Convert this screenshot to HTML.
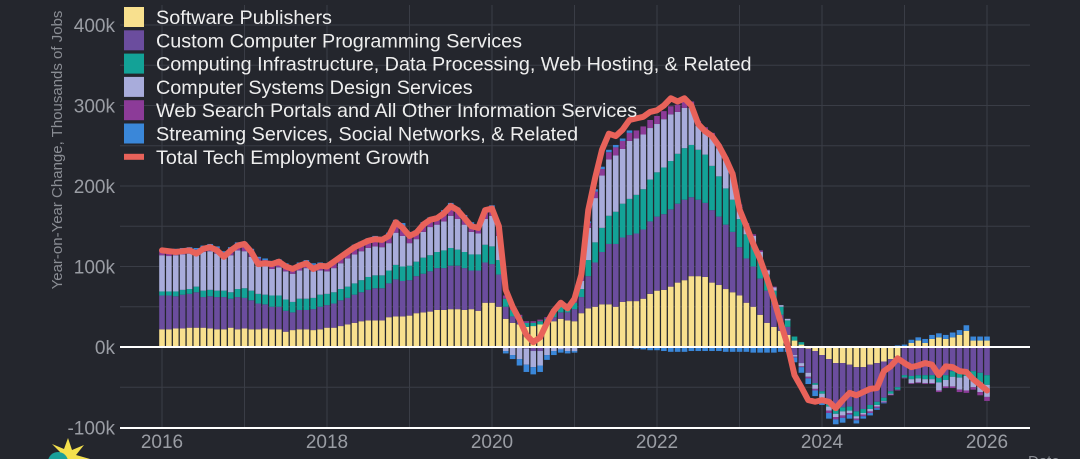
<!DOCTYPE html>
<html><head><meta charset="utf-8"><style>
html,body{margin:0;padding:0;background:#24262d;}
svg{display:block;font-family:"Liberation Sans",sans-serif;}
</style></head><body>
<svg id="chart" width="1080" height="459" viewBox="0 0 1080 459" xmlns="http://www.w3.org/2000/svg">
<rect width="1080" height="459" fill="#24262d"/>
<g id="grid"></g>
<g id="bars"></g>
<g id="axes"></g>
<g id="line"></g>
<text transform="translate(62,150) rotate(-90)" text-anchor="middle" font-size="15" fill="#8a8d94">Year-on-Year Change, Thousands of Jobs</text>
<text x="1028" y="466" font-size="15" fill="#8a8d94">Date</text>
<g><polygon points="68,438 72,450 84,445 76,455 90,459 50,459 60,452 52,444 64,449" fill="#f4e04d"/><circle cx="58" cy="462" r="10" fill="#1aa09a"/></g>
<g id="legend"></g>
</svg>
<script>
const years=[2016,2018,2020,2022,2024,2026];
const yTicks=[-100,0,100,200,300,400];
const seriesNames=["Software Publishers","Custom Computer Programming Services","Computing Infrastructure, Data Processing, Web Hosting, & Related","Computer Systems Design Services","Web Search Portals and All Other Information Services","Streaming Services, Social Networks, & Related"];
const software=[22,22,23,23,24,24,24,23,22,22,24,22, 23,22,22,23,22,22,19,21,22,22,21,22, 24,24,26,28,30,32,33,33,33,37,38,38, 39,42,43,44,46,46,47,47,46,47,45,55, 55,50,35,30,28,25,26,28,30,32,35,33, 32,42,48,50,53,53,50,56,57,57,60,66, 70,71,75,80,83,88,88,87,80,77,72,68, 64,55,50,40,30,25,20,15,8,3,-2,-5, -10,-15,-20,-20,-22,-25,-25,-22,-20,-18,-15,-12, 0,5,8,5,10,12,10,12,15,20,8,8, 8];
const custom=[42,42,40,42,42,44,38,40,40,40,36,40, 38,36,32,30,28,28,26,22,24,24,26,28, 28,30,32,33,35,36,38,40,40,42,46,44, 44,46,48,50,52,52,54,54,52,48,50,50, 48,40,15,8,4,-2,-5,-5,0,5,8,10, 15,20,40,55,65,75,78,80,82,84,86,90, 92,94,96,98,100,98,95,92,90,85,80,75, 60,55,50,45,40,30,20,10,-10,-20,-30,-40, -45,-55,-58,-55,-52,-55,-52,-50,-48,-45,-40,-38, -35,-36,-35,-35,-35,-38,-35,-30,-30,-28,-30,-32, -35];
const infra=[5,5,6,6,6,7,8,8,8,8,8,10, 12,12,12,12,14,14,14,13,14,14,14,15, 14,14,14,14,14,15,16,16,16,16,18,18, 18,18,20,20,20,22,22,20,20,20,20,22, 22,18,10,8,6,5,4,4,5,6,8,8, 8,10,20,25,30,35,40,42,45,48,50,52, 55,58,60,62,64,65,62,60,55,50,45,40, 35,30,28,25,20,15,10,8,5,3,0,-2, -3,-4,-5,-5,-5,-6,-5,-5,-4,-4,-3,-3, -3,-4,-4,-5,-5,-6,-6,-7,-8,-8,-10,-12, -12];
const design=[45,44,45,44,44,40,48,48,46,40,46,48, 46,42,36,35,33,35,35,35,35,38,33,30, 28,30,32,35,36,36,36,36,35,34,40,38, 28,28,32,35,34,36,40,38,34,28,26,32, 38,30,-5,-10,-15,-20,-20,-18,-10,-5,-3,-5, -5,10,40,55,65,70,70,68,72,70,68,64, 60,60,58,52,50,46,30,28,36,35,35,30, 15,12,10,8,5,4,2,2,-2,-4,-5,-5, -5,-5,-4,-5,-3,-3,-2,-3,-2,-1,-1,0, 0,-5,-5,-5,-5,-10,-8,-12,-15,-18,-10,-12, -15];
const webSearch=[5,6,6,6,6,6,6,7,7,7,8,8, 9,8,8,8,8,8,8,8,8,8,8,8, 8,8,8,8,9,9,9,10,10,10,12,12, 10,8,9,9,8,10,12,10,9,9,8,10, 10,8,4,3,2,2,2,2,2,3,3,3, 4,5,6,8,8,9,10,10,10,10,10,10, 10,10,10,9,9,8,6,6,5,5,4,4, 3,2,2,2,1,1,0,0,-1,-1,-2,-2, -2,-3,-3,-3,-2,-2,-2,-2,-2,-1,-1,-1, -1,-1,-1,-1,-1,-2,-2,-2,-3,-3,-3,-4, -5];
const streaming=[2,2,2,2,2,2,2,2,2,2,2,2, 2,2,2,2,2,2,2,2,2,2,2,2, 2,2,2,2,3,3,3,3,3,3,4,4, 4,3,3,3,3,4,4,4,3,3,3,3, 3,2,-3,-5,-8,-9,-9,-8,-6,-5,-4,-3, -2,1,2,3,3,3,3,3,3,-2,-3,-4, -4,-5,-6,-6,-6,-5,-5,-5,-5,-5,-6,-6, -6,-6,-7,-7,-7,-7,-6,-6,-6,-7,-7,-7, -7,-7,-6,-6,-5,-4,-3,-3,-2,-1,1,2, 3,4,4,5,5,5,5,6,6,7,5,5, 5];
const total=[120,119,118,119,120,116,122,124,120,112,120,126, 128,118,103,104,103,106,100,97,101,104,97,101, 100,106,112,118,124,128,132,134,133,138,155,148, 138,142,152,158,160,166,175,170,160,150,148,170, 172,150,71,50,34,15,6,12,30,45,55,48, 60,90,170,210,245,265,262,270,282,284,286,292, 294,300,309,305,309,300,277,268,262,250,234,215, 171,150,128,109,85,59,30,2,-35,-50,-66,-68, -66,-68,-76,-66,-57,-60,-56,-52,-51,-30,-24,-14, -20,-25,-23,-20,-22,-35,-24,-25,-30,-31,-40,-47, -54];
const seriesValues=[software,custom,infra,design,webSearch,streaming];
const colors=["#f8e08e","#6b4d9e","#13a297","#a8acdb","#8c3b98","#3a87d9"];
const NS="http://www.w3.org/2000/svg";
const X0=162,X1=987,L=120,R=1030;
function xYear(y){return X0+(y-2016)*(X1-X0)/10;}
function xIdx(i){return xYear(2016+i/12);}
function yV(v){return 347-v*0.805;}
function mk(tag,attrs,parent){const e=document.createElementNS(NS,tag);for(const k in attrs)e.setAttribute(k,attrs[k]);parent.appendChild(e);return e;}
const grid=document.getElementById('grid'),axes=document.getElementById('axes');
for(let v=-100;v<=400;v+=50){const g=mk('line',{x1:L,x2:R,y1:yV(v),y2:yV(v),stroke:'#3a3d46','stroke-width':1},grid);
}
for(let y=2016;y<=2026;y++){const g=mk('line',{x1:xYear(y),x2:xYear(y),y1:5,y2:428,stroke:'#3a3d46','stroke-width':1},grid);
}
yTicks.forEach(v=>{const t=mk('text',{x:115,y:yV(v)+7,'text-anchor':'end','font-size':19,fill:'#9a9da4'},axes);t.textContent=v===0?'0k':v+'k';
});
years.forEach(y=>{const t=mk('text',{x:xYear(y),y:448,'text-anchor':'middle','font-size':19,fill:'#9a9da4'},axes);t.textContent=y;
});
const bars=document.getElementById('bars');
for(let i=0;i<total.length;i++){let pos=0,neg=0;
 seriesValues.forEach((s,k)=>{const v=s[i];if(!v)return;let y0,y1;
  if(v>0){y0=pos;y1=pos+v;pos=y1;}else{y0=neg;y1=neg+v;neg=y1;}
  const r=mk('rect',{x:xIdx(i)-2.8,width:5.6,y:Math.min(yV(y0),yV(y1)),height:Math.abs(yV(y1)-yV(y0)),fill:colors[k]},bars);
  });}
const z=mk('line',{x1:L,x2:R,y1:yV(0),y2:yV(0),stroke:'#ffffff','stroke-width':2},axes);

const xa=mk('line',{x1:L,x2:R,y1:428,y2:428,stroke:'#ffffff','stroke-width':2},axes);

const pl=mk('polyline',{points:total.map((v,i)=>xIdx(i)+','+yV(v)).join(' '),fill:'none',stroke:'#e8625a','stroke-width':6,'stroke-linejoin':'round','stroke-linecap':'round'},document.getElementById('line'));

const lg=document.getElementById('legend');
const names=seriesNames.concat(["Total Tech Employment Growth"]);
names.forEach((n,k)=>{const y=17+k*23.3;
 let sw;
 if(k<6){sw=mk('rect',{x:124,y:y-10,width:20,height:20,fill:colors[k]},lg);}
 else{sw=mk('rect',{x:124,y:y-3,width:20,height:6,fill:'#e8625a'},lg);}
 
 const t=mk('text',{x:156,y:y+7,'font-size':19.8,fill:'#eeeeee'},lg);t.textContent=n;
 });
</script>
</body></html>
